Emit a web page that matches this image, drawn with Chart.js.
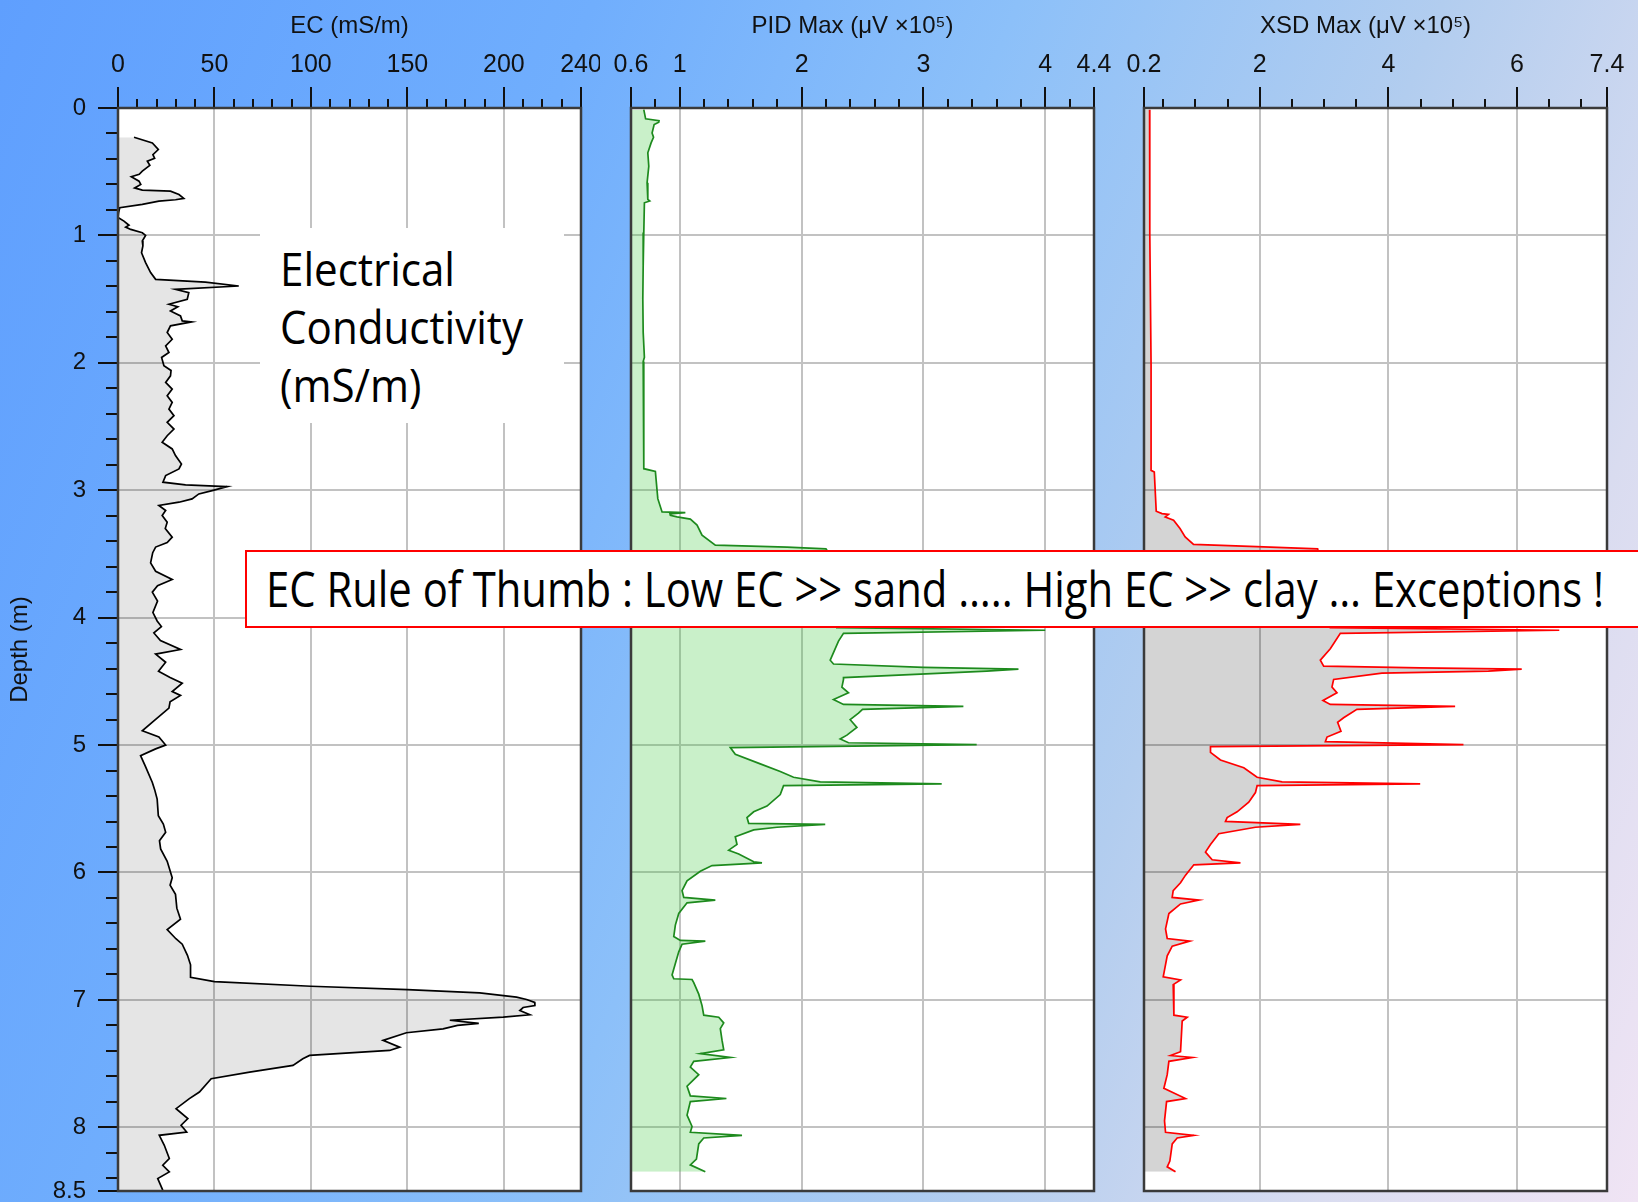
<!DOCTYPE html>
<html>
<head>
<meta charset="utf-8">
<script src="https://cdn.jsdelivr.net/npm/chart.js@4.4.1/dist/chart.umd.min.js"></script>
<style>
html,body{margin:0;padding:0;width:1638px;height:1202px;overflow:hidden;}
body{position:relative;background:linear-gradient(112deg,#5f9ffe 0%,#70aefd 28%,#8cc0f9 48%,#b2cdef 68%,#d9dcf0 85%,#f0e4f4 100%);}
canvas{position:absolute;top:0;}
#ecBox{position:absolute;left:260px;top:228px;width:304px;height:195px;background:#fff;}
#ecText{position:absolute;left:280px;top:239px;font-family:"Open Sans",sans-serif;font-size:46px;line-height:58px;color:#000;white-space:pre;transform-origin:0 0;display:inline-block;}
#ruleBox{position:absolute;left:245px;top:550px;width:1420px;height:74px;background:#fff;border:2px solid #ff0000;}
#ruleText{position:absolute;left:266px;top:563px;font-family:"Open Sans",sans-serif;font-size:50px;line-height:50px;color:#000;white-space:pre;transform-origin:0 0;display:inline-block;}
</style>
</head>
<body>
<canvas id="ec" width="600" height="1202" style="left:0;width:600px;height:1202px"></canvas>
<canvas id="pid" width="519" height="1202" style="left:600px;width:519px;height:1202px"></canvas>
<canvas id="xsd" width="519" height="1202" style="left:1119px;width:519px;height:1202px"></canvas>
<div id="ecBox"></div>
<span id="ecText">Electrical
Conductivity
(mS/m)</span>
<div id="ruleBox"></div>
<span id="ruleText">EC Rule of Thumb : Low EC &gt;&gt; sand ….. High EC &gt;&gt; clay … Exceptions !</span>
<script>
// ---------- Depth axis ----------
const depthTicks = [0,1,2,3,4,5,6,7,8,8.5];
const depthLabels = ['0','1','2','3','4','5','6','7','8','8.5'];
const depthMinor = [0.2,0.4,0.6,0.8,1.2,1.4,1.6,1.8,2.2,2.4,2.6,2.8,3.2,3.4,3.6,3.8,4.2,4.4,4.6,4.8,5.2,5.4,5.6,5.8,6.2,6.4,6.6,6.8,7.2,7.4,7.6,7.8,8.2,8.4];

// ---------- EC (mS/m) ----------
const ecTicks = [0,50,100,150,200,240];
const ecLabels = ['0','50','100','150','200','240'];
const ecMinor = [10,20,30,40,60,70,80,90,110,120,130,140,160,170,180,190,210,220,230];
const ecDepth = [
0.23,0.274,0.326,0.366,0.395,0.418,0.45,0.496,0.52,0.54,
0.574,0.6,0.627,0.645,0.653,0.679,0.71,0.72,0.731,0.757,
0.783,0.82,0.86,0.888,0.92,0.935,0.953,0.979,1.0,1.044,
1.083,1.136,1.214,1.292,1.345,1.366,1.397,1.423,1.449,1.501,
1.54,1.56,1.593,1.632,1.671,1.679,1.71,1.762,1.815,1.867,
1.919,1.958,2.023,2.06,2.102,2.154,2.206,2.258,2.311,2.363,
2.415,2.467,2.52,2.572,2.624,2.676,2.728,2.794,2.833,2.885,
2.937,2.958,2.971,3.003,3.029,3.068,3.094,3.12,3.159,3.198,
3.251,3.3,3.368,3.41,3.446,3.49,3.57,3.636,3.7,3.75,
3.8,3.87,3.96,4.026,4.07,4.12,4.18,4.25,4.286,4.35,
4.42,4.47,4.514,4.58,4.61,4.66,4.71,4.81,4.888,4.937,
5.0,5.03,5.083,5.164,5.294,5.35,5.424,5.554,5.62,5.685,
5.75,5.815,5.912,6.042,6.1,6.172,6.28,6.367,6.449,6.52,
6.563,6.65,6.725,6.823,6.856,6.893,6.919,6.945,6.979,6.997,
7.02,7.044,7.06,7.084,7.117,7.136,7.16,7.185,7.2,7.227,
7.258,7.318,7.371,7.397,7.436,7.462,7.514,7.567,7.619,7.723,
7.775,7.854,7.932,7.984,8.037,8.063,8.141,8.245,8.298,8.35,
8.402,8.493];
const ecValue = [
8.3,17.8,20.9,18.1,19,15.2,16.5,12.6,11,6.9,
10.9,11.8,8.6,12.6,27.2,31.6,34.1,29.8,21.2,12.6,
0.9,0.3,0,3.1,5.7,4.0,6.6,12.6,14.3,12.6,
12.9,12.2,14.3,16.9,19.5,45.3,62.6,29.8,36.7,35.9,
26.4,31,27.2,32.4,33.3,38.1,27.2,25.5,28.1,24.7,
26.4,22.6,23.8,27.5,27.2,24.7,28.1,25.5,28.1,26.4,
29.0,25.5,29.0,25.5,22.9,28.1,29.8,32.9,31.6,24.7,
23.3,35,56.6,48.8,41.9,38.4,31.6,21.2,24.7,22.9,
25.5,24.5,28.1,25.5,19.5,18.0,16.9,19.5,28.1,20.5,
17.8,20.5,18.1,20.3,22.5,18.6,22,32.4,19.5,24.7,
21,27,33.3,28.1,32.4,27,26.4,18.6,12.6,21.2,
24.7,19.5,11.7,14.1,17.8,19,20.3,20.9,23.5,24.7,
21.5,22.1,25.5,28.1,27.0,29.8,30.5,32.4,25.5,30,
33.3,36,37.6,37.6,50,100,150,187.5,206.6,211.8,
216,216.1,210,208.3,213.5,199.7,172,187,176,168.5,
149.5,137.4,146,140.8,99.3,95.8,90.7,68.2,48.3,42.2,
37,30.1,36.2,32.7,35.6,21.4,24.0,26.6,23.2,26.6,
20.6,23.2];

// ---------- PID Max (µV x10^5) ----------
const pidTicks = [0.6,1,2,3,4,4.4];
const pidLabels = ['0.6','1','2','3','4','4.4'];
const pidMinor = [0.8,1.2,1.4,1.6,1.8,2.2,2.4,2.6,2.8,3.2,3.4,3.6,3.8,4.2];
const pidDepth = [
0.013,0.085,0.1,0.112,0.13,0.196,0.23,0.274,0.352,0.457,
0.587,0.717,0.73,0.744,0.978,1.239,1.5,1.761,1.957,1.99,
2.283,2.544,2.831,2.852,3.066,3.17,3.175,3.185,3.196,3.209,
3.227,3.274,3.353,3.431,3.447,3.46,3.6,3.8,4.0,4.078,
4.099,4.123,4.184,4.334,4.364,4.39,4.404,4.42,4.47,4.485,
4.545,4.59,4.642,4.681,4.696,4.72,4.75,4.801,4.861,4.922,
4.952,4.982,4.997,5.02,5.072,5.148,5.208,5.253,5.289,5.304,
5.319,5.389,5.479,5.524,5.569,5.614,5.623,5.645,5.666,5.72,
5.78,5.825,5.855,5.916,5.925,5.946,5.991,6.066,6.142,6.196,
6.217,6.238,6.322,6.413,6.503,6.533,6.539,6.563,6.623,6.714,
6.804,6.834,6.84,6.864,6.955,7.045,7.12,7.136,7.181,7.226,
7.316,7.392,7.422,7.452,7.482,7.527,7.587,7.678,7.753,7.774,
7.798,7.904,7.994,8.039,8.063,8.084,8.13,8.25,8.295,8.349];
const pidValue = [
0.705,0.72,0.83,0.828,0.79,0.773,0.785,0.765,0.738,0.746,
0.732,0.738,0.754,0.71,0.705,0.70,0.697,0.70,0.71,0.70,
0.705,0.705,0.705,0.80,0.82,0.855,1.046,0.92,0.923,0.978,
1.087,1.142,1.183,1.292,1.88,2.2,2.3,2.28,2.3,2.29,
4.0,2.344,2.303,2.235,2.262,3.0,3.78,3.52,2.344,2.344,
2.331,2.385,2.262,2.344,3.328,2.5,2.467,2.399,2.454,2.372,
2.317,2.385,3.437,1.415,1.456,1.661,1.825,1.934,2.153,3.15,
1.852,1.825,1.716,1.607,1.552,1.566,2.194,1.798,1.607,1.456,
1.47,1.402,1.484,1.607,1.675,1.265,1.169,1.06,1.019,1.033,
1.292,1.06,0.992,0.964,0.951,1.005,1.21,1.019,0.992,0.964,
0.937,0.951,1.101,1.115,1.156,1.183,1.197,1.32,1.361,1.333,
1.347,1.361,1.169,1.415,1.115,1.087,1.156,1.06,1.087,1.383,
1.087,1.06,1.101,1.087,1.511,1.197,1.156,1.137,1.087,1.21];

// ---------- XSD Max (µV x10^5) ----------
const xsdTicks = [0.2,2,4,6,7.4];
const xsdLabels = ['0.2','2','4','6','7.4'];
const xsdMinor = [0.5,1,1.5,2.5,3,3.5,4.5,5,5.5,6.5,7];
const xsdDepth = [
0.013,0.978,2.02,2.844,2.857,3.165,3.183,3.19,3.21,3.235,
3.3,3.366,3.425,3.444,3.46,3.7,3.9,4.078,4.099,4.123,
4.244,4.334,4.38,4.395,4.404,4.419,4.435,4.485,4.545,4.59,
4.651,4.681,4.696,4.72,4.786,4.822,4.892,4.937,4.973,4.997,
5.012,5.057,5.117,5.178,5.253,5.289,5.304,5.319,5.373,5.449,
5.524,5.569,5.599,5.623,5.645,5.696,5.78,5.84,5.9,5.925,
5.94,6.021,6.081,6.142,6.196,6.217,6.247,6.322,6.443,6.518,
6.539,6.578,6.654,6.819,6.843,6.88,7.12,7.136,7.166,7.407,
7.437,7.452,7.482,7.587,7.693,7.774,7.798,7.949,8.039,8.063,
8.084,8.13,8.265,8.31,8.349];
const xsdValue = [
0.287,0.29,0.31,0.31,0.36,0.39,0.48,0.58,0.53,0.66,
0.76,0.84,0.97,2.06,2.9,3.0,3.05,3.097,6.658,3.253,
3.097,2.942,2.994,4.5,6.074,5.556,3.9,3.149,3.123,3.201,
2.983,3.097,5.038,3.511,3.304,3.211,3.263,3.046,3.02,5.168,
1.234,1.234,1.389,1.752,1.959,2.347,4.495,1.959,1.933,1.829,
1.648,1.493,1.467,2.631,1.933,1.363,1.234,1.156,1.26,1.7,
0.975,0.846,0.768,0.654,0.638,1.053,0.768,0.587,0.535,0.561,
0.913,0.639,0.561,0.499,0.768,0.654,0.665,0.872,0.794,0.768,
0.613,0.949,0.587,0.561,0.509,0.846,0.551,0.519,0.535,0.975,
0.716,0.639,0.602,0.561,0.69];

// ---------- drawing ----------
Chart.defaults.font.family = '"Liberation Sans", Arial, sans-serif';
Chart.defaults.color = '#111';

const framePlugin = {
  id: 'frame',
  beforeDraw(chart) {
    const a = chart.chartArea, c = chart.ctx;
    c.save(); c.fillStyle = '#ffffff';
    c.fillRect(a.left, a.top, a.right - a.left, a.bottom - a.top);
    c.restore();
  },
  afterDraw(chart, args, opts) {
    const a = chart.chartArea, c = chart.ctx;
    c.save();
    c.strokeStyle = '#111'; c.lineWidth = 2;
    const xs = chart.scales.x, ys = chart.scales.y;
    (opts.xMinor || []).forEach(v => {
      const p = Math.round(xs.getPixelForValue(v));
      c.beginPath(); c.moveTo(p, a.top - 9); c.lineTo(p, a.top); c.stroke();
    });
    (opts.yMinor || []).forEach(v => {
      const p = Math.round(ys.getPixelForValue(v));
      c.beginPath(); c.moveTo(a.left - 12, p); c.lineTo(a.left, p); c.stroke();
    });
    c.strokeStyle = '#3a3a3a'; c.lineWidth = 2.5;
    c.strokeRect(a.left, a.top, a.right - a.left, a.bottom - a.top);
    c.restore();
  }
};

function gridColor(min, max) {
  return ctx => (ctx.tick && (ctx.tick.value === min || ctx.tick.value === max)) ? 'rgba(0,0,0,0)' : '#c2c2c2';
}

function makePanel(id, cfg) {
  const pts = cfg.depth.map((d, i) => ({ x: cfg.values[i], y: d }));
  return new Chart(document.getElementById(id), {
    type: 'line',
    data: { datasets: [{
      data: pts, borderColor: cfg.color, backgroundColor: cfg.fill,
      borderWidth: 1.7, pointRadius: 0, tension: 0, fill: { value: cfg.min }
    }]},
    options: {
      responsive: false, animation: false, devicePixelRatio: 1,
      indexAxis: 'y',
      layout: { padding: { left: 0, top: 0, right: cfg.padRight, bottom: 11 } },
      plugins: { legend: { display: false }, tooltip: { enabled: false },
        frame: { xMinor: cfg.xMinor, yMinor: cfg.yMinor } },
      scales: {
        x: {
          type: 'linear', position: 'top', min: cfg.min, max: cfg.max,
          afterBuildTicks: s => { s.ticks = cfg.xTicks.map(v => ({ value: v })); },
          afterFit: s => { s.height = 108; s.paddingLeft = 0; s.paddingRight = 0; s.paddingTop = 0; s.paddingBottom = 0; },
          ticks: { autoSkip: false, maxRotation: 0, minRotation: 0, padding: 7,
            font: { size: 25 }, color: '#111', callback: (v, i) => cfg.xLabels[i] },
          grid: { color: gridColor(cfg.min, cfg.max), lineWidth: 2, tickLength: 21, tickColor: '#111', tickWidth: 2 },
          border: { display: false },
          title: { display: true, text: cfg.title, font: { size: 24 }, color: '#111', padding: { top: 12, bottom: 0 } }
        },
        y: {
          type: 'linear', position: 'left', reverse: true, min: 0, max: 8.5,
          afterBuildTicks: s => { s.ticks = depthTicks.map(v => ({ value: v })); },
          afterFit: s => { s.width = cfg.yWidth; s.paddingLeft = 0; s.paddingRight = 0; s.paddingTop = 0; s.paddingBottom = 0; },
          ticks: { display: cfg.showDepth, autoSkip: false, padding: 12, font: { size: 24 }, color: '#111',
            callback: (v, i) => depthLabels[i] },
          grid: { color: gridColor(0, 8.5), lineWidth: 2, drawTicks: cfg.showDepth, tickLength: 20, tickColor: '#111', tickWidth: 2 },
          border: { display: false },
          title: { display: cfg.showDepth, text: 'Depth (m)', font: { size: 24 }, color: '#111', padding: { top: 6, bottom: 0 } }
        }
      }
    },
    plugins: [framePlugin]
  });
}

makePanel('ec', { depth: ecDepth, values: ecValue, color: '#000', fill: 'rgba(0,0,0,0.10)',
  min: 0, max: 240, xTicks: ecTicks, xLabels: ecLabels, xMinor: ecMinor, yMinor: depthMinor,
  title: 'EC (mS/m)', yWidth: 118, padRight: 19, showDepth: true });
makePanel('pid', { depth: pidDepth, values: pidValue, color: '#1d8a1d', fill: 'rgba(60,200,60,0.28)',
  min: 0.6, max: 4.4, xTicks: pidTicks, xLabels: pidLabels, xMinor: pidMinor, yMinor: [],
  title: 'PID Max (μV ×10⁵)   ', yWidth: 31, padRight: 25, showDepth: false });
makePanel('xsd', { depth: xsdDepth, values: xsdValue, color: '#ff0000', fill: 'rgba(0,0,0,0.17)',
  min: 0.2, max: 7.4, xTicks: xsdTicks, xLabels: xsdLabels, xMinor: xsdMinor, yMinor: [],
  title: 'XSD Max (μV ×10⁵)   ', yWidth: 25, padRight: 31, showDepth: false });

function fitWidth(el, target) {
  el.style.transform = 'none';
  const w = el.getBoundingClientRect().width;
  if (w > 0) el.style.transform = 'scaleX(' + (target / w) + ')';
}
function fitAll() {
  fitWidth(document.getElementById('ruleText'), 1338);
  fitWidth(document.getElementById('ecText'), 243);
}
fitAll();
if (document.fonts && document.fonts.ready) document.fonts.ready.then(fitAll);
</script>
</body>
</html>
